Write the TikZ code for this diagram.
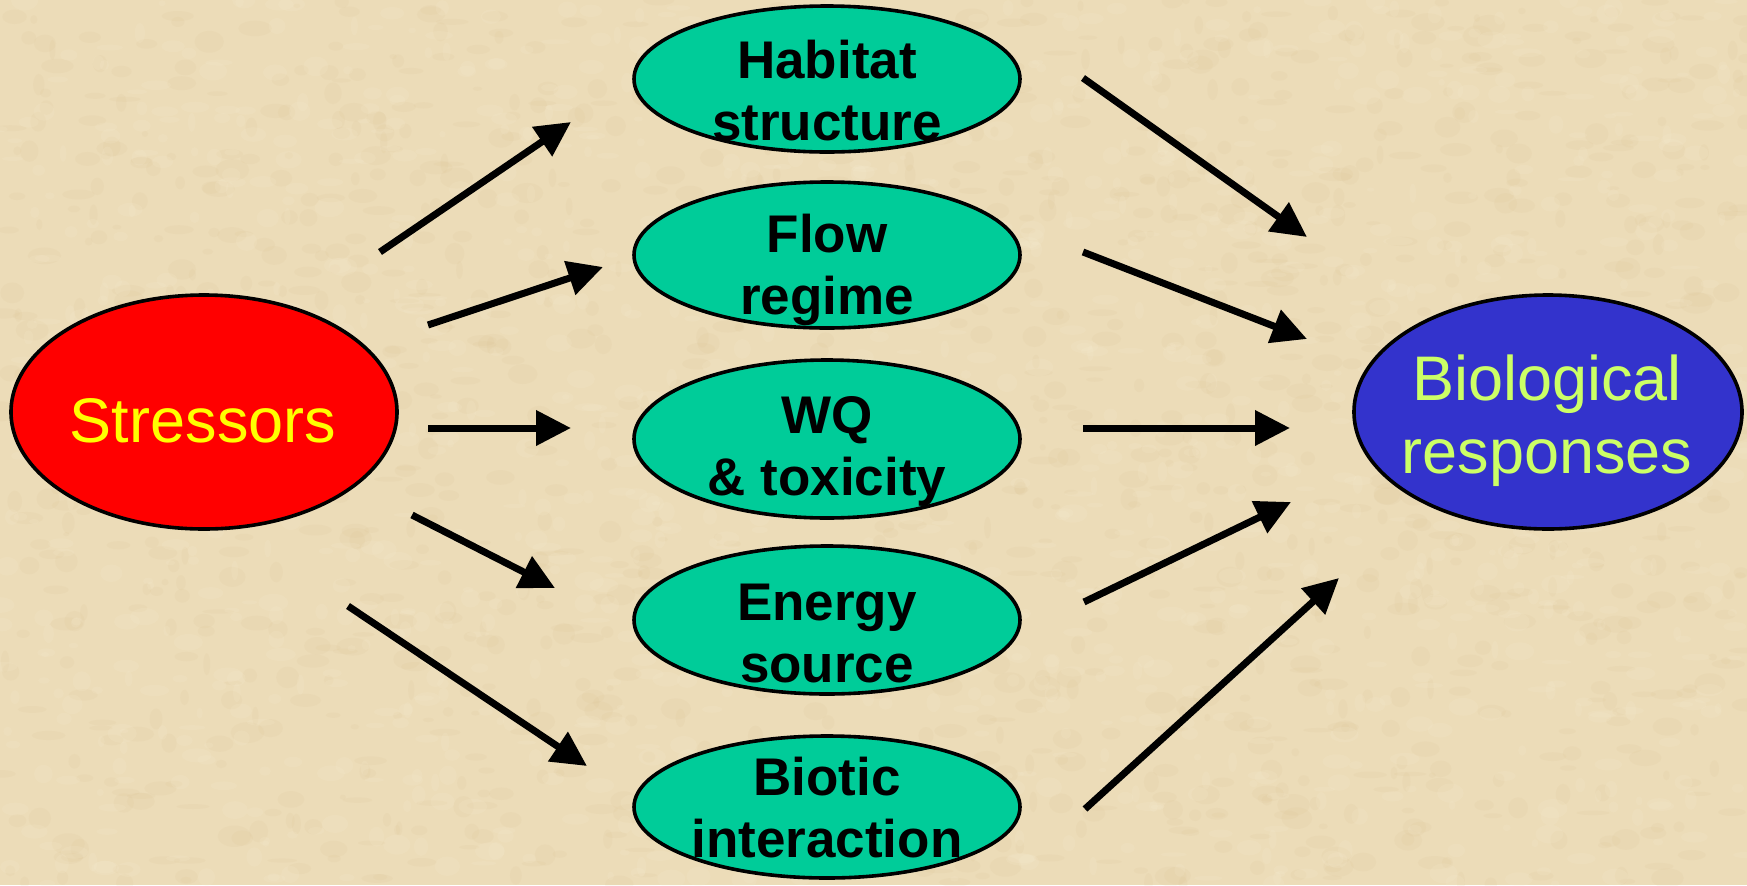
\documentclass[tikz,border=0pt]{standalone}
\usepackage{fontspec}
\setmainfont{Liberation Sans}
\usetikzlibrary{arrows.meta,shapes.geometric}

\definecolor{parchment}{RGB}{236,220,184}
\definecolor{parchdark}{RGB}{212,184,134}
\definecolor{parchlight}{RGB}{250,240,214}
\definecolor{stressred}{RGB}{255,0,0}
\definecolor{stressyellow}{RGB}{255,255,0}
\definecolor{factorgreen}{RGB}{0,204,153}
\definecolor{responseblue}{RGB}{51,51,204}
\definecolor{responselime}{RGB}{204,255,102}

\tikzset{
  oval/.style={ellipse, draw=black, line width=1.8pt, inner sep=0pt},
  factor/.style={oval, fill=factorgreen, minimum width=193pt},
  factortext/.style={anchor=base, inner sep=0pt, font=\bfseries\fontsize{26.5}{31}\selectfont},
  bigtext/.style={anchor=base, inner sep=0pt, font=\fontsize{31.5}{36.5}\selectfont},
  link/.style={line width=3.5pt, -{Triangle[length=17.5pt,width=17pt]}}
}

\begin{document}
\begin{tikzpicture}[x=0.5pt,y=-0.5pt]
\useasboundingbox (0,0) rectangle (1747,885);

% parchment background with fine mottling
\fill[parchment] (0,0) rectangle (1747,885);
\pgfmathsetseed{17}
\foreach \i in {1,...,1400}{
  \pgfmathsetmacro{\px}{rnd*1747}
  \pgfmathsetmacro{\py}{rnd*885}
  \pgfmathsetmacro{\rx}{3+rnd*14}
  \pgfmathsetmacro{\ry}{2+rnd*9}
  \fill[parchdark, opacity=0.09] (\px,\py) ellipse [x radius=\rx, y radius=\ry];
}
\foreach \i in {1,...,1400}{
  \pgfmathsetmacro{\px}{rnd*1747}
  \pgfmathsetmacro{\py}{rnd*885}
  \pgfmathsetmacro{\rx}{3+rnd*12}
  \pgfmathsetmacro{\ry}{2+rnd*8}
  \fill[parchlight, opacity=0.14] (\px,\py) ellipse [x radius=\rx, y radius=\ry];
}

% outer nodes
\node[oval, fill=stressred, minimum width=193pt, minimum height=117pt] (stress) at (204,412) {};
\node[bigtext, text=stressyellow] (stressT) at (203,442) {Stressors};

\node[oval, fill=responseblue, minimum width=194pt, minimum height=117pt] (resp) at (1548,412) {};
\node[bigtext, text=responselime] (respT) at (1547,400)
  {\begin{tabular}[t]{@{}c@{}}Biological\\responses\end{tabular}};

% intermediate factors
\node[factor, minimum height=73pt] (hab) at (827,79) {};
\node[factortext] (habT) at (827,78) {\begin{tabular}[t]{@{}c@{}}Habitat\\structure\end{tabular}};

\node[factor, minimum height=73pt] (flow) at (827,255) {};
\node[factortext] (flowT) at (827,252) {\begin{tabular}[t]{@{}c@{}}Flow\\regime\end{tabular}};

\node[factor, minimum height=79pt] (wq) at (827,439) {};
\node[factortext] (wqT) at (827,433) {\begin{tabular}[t]{@{}c@{}}WQ\\\&~toxicity\end{tabular}};

\node[factor, minimum height=74pt] (energy) at (827,620) {};
\node[factortext] (energyT) at (827,620) {\begin{tabular}[t]{@{}c@{}}Energy\\source\end{tabular}};

\node[factor, minimum height=71pt] (biotic) at (827,807) {};
\node[factortext] (bioticT) at (827,795) {\begin{tabular}[t]{@{}c@{}}Biotic\\interaction\end{tabular}};

% arrow end points
\coordinate (s1) at (380,252);  \coordinate (hIn) at (571,122);
\coordinate (s2) at (428,325);  \coordinate (fIn) at (603,267);
\coordinate (s3) at (428,428);  \coordinate (wIn) at (571,428);
\coordinate (s4) at (412,515);  \coordinate (eIn) at (555,588);
\coordinate (s5) at (348,606);  \coordinate (bIn) at (587,766);

\coordinate (hOut) at (1083,78);  \coordinate (r1) at (1307,237);
\coordinate (fOut) at (1083,252); \coordinate (r2) at (1307,339);
\coordinate (wOut) at (1083,428); \coordinate (r3) at (1290,428);
\coordinate (eOut) at (1084,602); \coordinate (r4) at (1291,502);
\coordinate (bOut) at (1085,809); \coordinate (r5) at (1339,578);

% stressors to factors
\draw[link] (s1) -- (hIn);
\draw[link] (s2) -- (fIn);
\draw[link] (s3) -- (wIn);
\draw[link] (s4) -- (eIn);
\draw[link] (s5) -- (bIn);

% factors to responses
\draw[link] (hOut) -- (r1);
\draw[link] (fOut) -- (r2);
\draw[link] (wOut) -- (r3);
\draw[link] (eOut) -- (r4);
\draw[link] (bOut) -- (r5);
\end{tikzpicture}
\end{document}
